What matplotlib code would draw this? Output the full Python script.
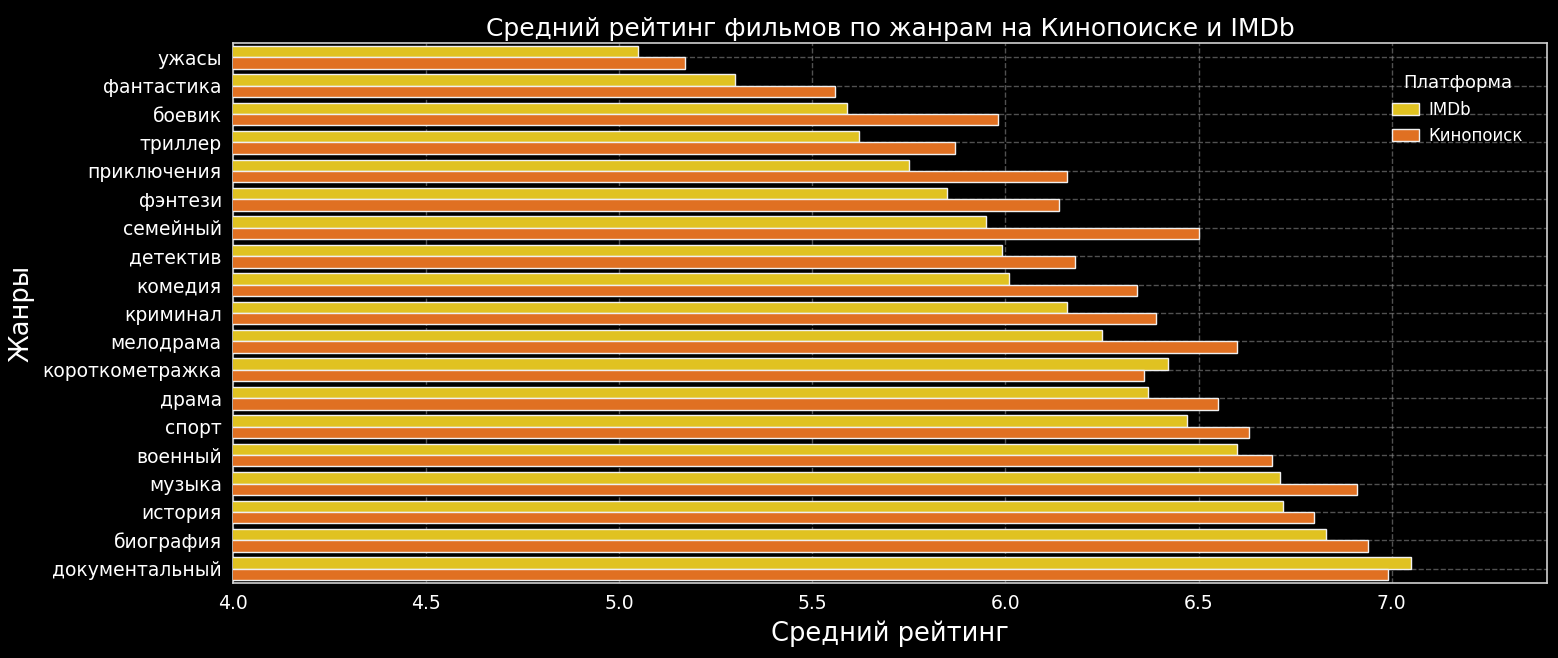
import matplotlib
matplotlib.use("Agg")
import matplotlib.pyplot as plt
import numpy as np

genres = ["ужасы", "фантастика", "боевик", "триллер", "приключения", "фэнтези",
          "семейный", "детектив", "комедия", "криминал", "мелодрама",
          "короткометражка", "драма", "спорт", "военный", "музыка", "история",
          "биография", "документальный"]
imdb = [5.05, 5.30, 5.59, 5.62, 5.75, 5.85, 5.95, 5.99, 6.01, 6.16, 6.25,
        6.42, 6.37, 6.47, 6.60, 6.71, 6.72, 6.83, 7.05]
kinopoisk = [5.17, 5.56, 5.98, 5.87, 6.16, 6.14, 6.50, 6.18, 6.34, 6.39, 6.60,
             6.36, 6.55, 6.63, 6.69, 6.91, 6.80, 6.94, 6.99]
series_names = ["IMDb", "Кинопоиск"]
colors = ["#e0c221", "#e07022"]

plt.rcParams['font.family'] = ['DejaVu Sans']

fig = plt.figure(figsize=(15.58, 6.58), dpi=100, facecolor="black")
ax = fig.add_axes([0.1495, 0.114, 0.8435, 0.8206])
ax.set_facecolor("black")

y = np.arange(len(genres))
h = 0.4
ax.barh(y - h / 2, imdb, height=h, color=colors[0], edgecolor="#f0f0f0",
        linewidth=1, label=series_names[0], zorder=3)
ax.barh(y + h / 2, kinopoisk, height=h, color=colors[1], edgecolor="#f0f0f0",
        linewidth=1, label=series_names[1], zorder=3)

ax.set_yticks(y)
ax.set_yticklabels(genres)
ax.set_ylim(len(genres) - 0.5, -0.5)
ax.set_xlim(4.0, max(max(imdb), max(kinopoisk)) * 1.05)
ax.set_xticks([4.0, 4.5, 5.0, 5.5, 6.0, 6.5, 7.0])

ax.grid(True, color="#888888", linestyle="--", linewidth=1, alpha=0.6, zorder=0)
ax.set_axisbelow(True)
for s in ax.spines.values():
    s.set_color("#d0d0d0")
    s.set_linewidth(1.2)
ax.tick_params(colors="white", labelsize=13.5, length=0, pad=8)

ax.set_title("Средний рейтинг фильмов по жанрам на Кинопоиске и IMDb",
             color="white", fontsize=18, pad=5)
ax.set_xlabel("Средний рейтинг", color="white", fontsize=18.5, labelpad=5)
ax.set_ylabel("Жанры", color="white", fontsize=18.5, labelpad=6)

leg = ax.legend(title="Платформа", loc="upper right", frameon=False,
                fontsize=12, title_fontsize=13, labelcolor="white",
                bbox_to_anchor=(0.993, 0.97), handlelength=1.6,
                handletextpad=0.6)
leg.get_title().set_color("white")

fig.savefig("out.png", dpi=100, facecolor="black")
